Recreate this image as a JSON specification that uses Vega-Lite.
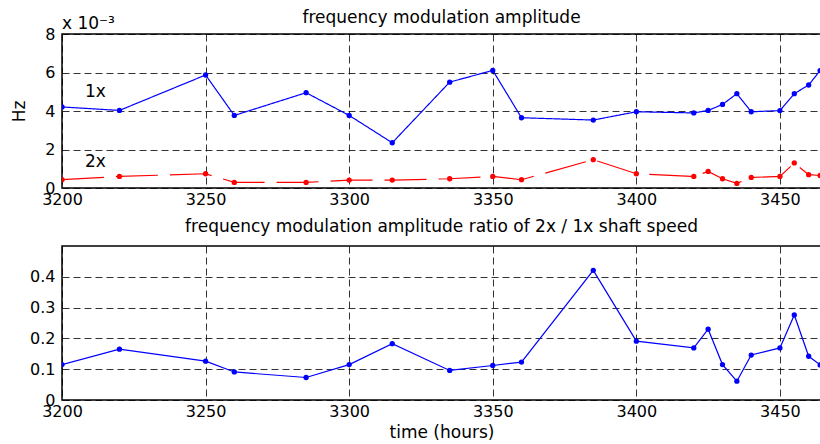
{
  "$schema": "https://vega.github.io/schema/vega-lite/v6.json",
  "padding": {"left": 10, "top": 8, "right": 0, "bottom": 0},
  "autosize": {"type": "pad"},
  "background": "white",
  "spacing": 9,
  "config": {
    "font": "DejaVu Sans",
    "view": {"stroke": "#000", "strokeWidth": 1.5},
    "axis": {
      "labelFont": "DejaVu Sans", "labelFontSize": 16, "labelColor": "#000",
      "titleFont": "DejaVu Sans", "titleFontSize": 17, "titleFontWeight": "normal", "titleColor": "#000",
      "domain": false, "ticks": false, "grid": true, "gridColor": "#000", "gridDash": [7, 4], "gridWidth": 1, "gridOpacity": 0.8,
      "labelFlush": false, "labelOverlap": false, "tickCount": 20
    },
    "title": {"font": "DejaVu Sans", "fontSize": 17, "fontWeight": "normal", "color": "#000", "anchor": "middle", "frame": "group"}
  },
  "datasets": {
    "amp": [
      {"t": 3200, "series": "1x", "v": 4.21}, {"t": 3220, "series": "1x", "v": 4.03}, {"t": 3250, "series": "1x", "v": 5.87},
      {"t": 3260, "series": "1x", "v": 3.77}, {"t": 3285, "series": "1x", "v": 4.95}, {"t": 3300, "series": "1x", "v": 3.77},
      {"t": 3315, "series": "1x", "v": 2.35}, {"t": 3335, "series": "1x", "v": 5.5}, {"t": 3350, "series": "1x", "v": 6.11},
      {"t": 3360, "series": "1x", "v": 3.65}, {"t": 3385, "series": "1x", "v": 3.53}, {"t": 3400, "series": "1x", "v": 3.96},
      {"t": 3420, "series": "1x", "v": 3.9}, {"t": 3425, "series": "1x", "v": 4.03}, {"t": 3430, "series": "1x", "v": 4.34},
      {"t": 3435, "series": "1x", "v": 4.9}, {"t": 3440, "series": "1x", "v": 3.96}, {"t": 3450, "series": "1x", "v": 4.02},
      {"t": 3455, "series": "1x", "v": 4.9}, {"t": 3460, "series": "1x", "v": 5.35}, {"t": 3464, "series": "1x", "v": 6.1},
      {"t": 3200, "series": "2x", "v": 0.43}, {"t": 3220, "series": "2x", "v": 0.6}, {"t": 3250, "series": "2x", "v": 0.74},
      {"t": 3260, "series": "2x", "v": 0.29}, {"t": 3285, "series": "2x", "v": 0.29}, {"t": 3300, "series": "2x", "v": 0.41},
      {"t": 3315, "series": "2x", "v": 0.41}, {"t": 3335, "series": "2x", "v": 0.48}, {"t": 3350, "series": "2x", "v": 0.6},
      {"t": 3360, "series": "2x", "v": 0.43}, {"t": 3385, "series": "2x", "v": 1.47}, {"t": 3400, "series": "2x", "v": 0.74},
      {"t": 3420, "series": "2x", "v": 0.6}, {"t": 3425, "series": "2x", "v": 0.86}, {"t": 3430, "series": "2x", "v": 0.48},
      {"t": 3435, "series": "2x", "v": 0.24}, {"t": 3440, "series": "2x", "v": 0.55}, {"t": 3450, "series": "2x", "v": 0.6},
      {"t": 3455, "series": "2x", "v": 1.3}, {"t": 3460, "series": "2x", "v": 0.69}, {"t": 3464, "series": "2x", "v": 0.65}
    ],
    "ratio": [
      {"t": 3200, "r": 0.115}, {"t": 3220, "r": 0.165}, {"t": 3250, "r": 0.126}, {"t": 3260, "r": 0.091},
      {"t": 3285, "r": 0.073}, {"t": 3300, "r": 0.115}, {"t": 3315, "r": 0.183}, {"t": 3335, "r": 0.096},
      {"t": 3350, "r": 0.112}, {"t": 3360, "r": 0.123}, {"t": 3385, "r": 0.421}, {"t": 3400, "r": 0.191},
      {"t": 3420, "r": 0.169}, {"t": 3425, "r": 0.23}, {"t": 3430, "r": 0.115}, {"t": 3435, "r": 0.061},
      {"t": 3440, "r": 0.146}, {"t": 3450, "r": 0.169}, {"t": 3455, "r": 0.276}, {"t": 3460, "r": 0.142},
      {"t": 3464, "r": 0.114}
    ]
  },
  "vconcat": [
    {
      "title": {"text": "frequency modulation amplitude", "offset": -12},
      "width": 759,
      "height": 154,
      "layer": [
        {
          "data": {"name": "amp"},
          "mark": {"type": "line", "strokeWidth": 1.2, "clip": true},
          "encoding": {
            "x": {"field": "t", "type": "quantitative", "scale": {"domain": [3200, 3464.3], "nice": false, "zero": false},
                  "axis": {"values": [3200, 3250, 3300, 3350, 3400, 3450], "format": "d", "title": null, "labelPadding": 3}},
            "y": {"field": "v", "type": "quantitative", "scale": {"domain": [0, 8], "nice": false},
                  "axis": {"values": [0, 2, 4, 6, 8], "format": "d", "title": "Hz", "labelPadding": 7, "titlePadding": 16}},
            "color": {"field": "series", "type": "nominal", "scale": {"domain": ["1x", "2x"], "range": ["#0000ff", "#ff0000"]}, "legend": null},
            "strokeDash": {"field": "series", "type": "nominal", "scale": {"domain": ["1x", "2x"], "range": [[1, 0], [42, 12]]}, "legend": null}
          }
        },
        {
          "data": {"name": "amp"},
          "mark": {"type": "circle", "size": 28, "opacity": 1, "clip": true},
          "encoding": {
            "x": {"field": "t", "type": "quantitative"},
            "y": {"field": "v", "type": "quantitative"},
            "color": {"field": "series", "type": "nominal", "scale": {"domain": ["1x", "2x"], "range": ["#0000ff", "#ff0000"]}, "legend": null}
          }
        },
        {
          "data": {"values": [{}]},
          "mark": {"type": "text", "text": "1x", "fontSize": 17, "align": "left", "baseline": "middle", "color": "#000"},
          "encoding": {"x": {"datum": 3208}, "y": {"datum": 5.0}}
        },
        {
          "data": {"values": [{}]},
          "mark": {"type": "text", "text": "2x", "fontSize": 17, "align": "left", "baseline": "middle", "color": "#000"},
          "encoding": {"x": {"datum": 3208}, "y": {"datum": 1.37}}
        },
        {
          "data": {"values": [{}]},
          "mark": {"type": "text", "text": "x 10⁻³", "fontSize": 17, "align": "left", "baseline": "middle", "dy": -10, "color": "#000"},
          "encoding": {"x": {"datum": 3200}, "y": {"datum": 8}}
        }
      ]
    },
    {
      "title": {"text": "frequency modulation amplitude ratio of 2x / 1x shaft speed", "offset": 10},
      "width": 759,
      "height": 154,
      "layer": [
        {
          "data": {"name": "ratio"},
          "mark": {"type": "line", "strokeWidth": 1.2, "color": "#0000ff", "clip": true},
          "encoding": {
            "x": {"field": "t", "type": "quantitative", "scale": {"domain": [3200, 3464.3], "nice": false, "zero": false},
                  "axis": {"values": [3200, 3250, 3300, 3350, 3400, 3450], "format": "d", "title": "time (hours)", "labelPadding": 3, "titlePadding": 5}},
            "y": {"field": "r", "type": "quantitative", "scale": {"domain": [0, 0.5], "nice": false},
                  "axis": {"values": [0, 0.1, 0.2, 0.3, 0.4], "format": ".1~f", "title": null, "labelPadding": 7}}
          }
        },
        {
          "data": {"name": "ratio"},
          "mark": {"type": "circle", "size": 28, "opacity": 1, "color": "#0000ff", "clip": true},
          "encoding": {
            "x": {"field": "t", "type": "quantitative"},
            "y": {"field": "r", "type": "quantitative"}
          }
        }
      ]
    }
  ]
}
